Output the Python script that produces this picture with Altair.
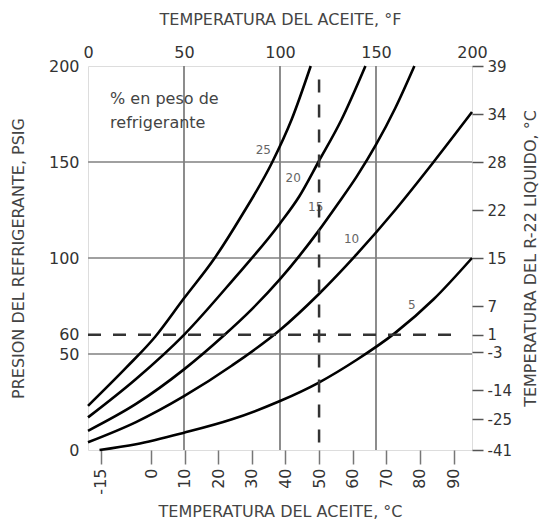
import altair as alt
import pandas as pd

# ---- data (oil temperature in °F, refrigerant pressure in psig)
curve_names = ["5", "10", "15", "20", "25"]
temp_f_5 = [6, 25, 50, 75, 100, 120, 140, 160, 180, 200]
psig_5 = [0, 3, 9, 16, 25.5, 35, 47, 61, 78.5, 100]
temp_f_10 = [0, 25, 50, 75, 100, 120, 140, 160, 180, 200]
psig_10 = [4, 14.5, 28, 44, 62.5, 81, 102, 125, 150, 176]
temp_f_15 = [0, 25, 50, 70, 85, 100, 110, 120, 130, 140, 150, 160, 170]
psig_15 = [10, 24, 42, 59, 73, 89, 101, 114, 128, 142.5, 159, 178, 200]
temp_f_20 = [0, 25, 50, 75, 100, 110, 120, 132, 144.5]
psig_20 = [17, 37, 60, 88, 118, 132, 150, 172, 200]
temp_f_25 = [0, 20, 35, 50, 66, 80, 96, 106, 116]
psig_25 = [23, 43, 59, 79, 100, 122, 150, 172, 200]

# curve label anchor points (°F, psig)
label_f = [168.6, 137.3, 118.6, 106.9, 91.3]
label_p = [75.5, 110, 126.6, 141.6, 156]

# axes
top_ticks_f = [0, 50, 100, 150, 200]
bottom_ticks_c = [-15, 0, 10, 20, 30, 40, 50, 60, 70, 80, 90]
celsius_domain = [-18.75, 95.5]
left_ticks_psig = [0, 50, 60, 100, 150, 200]
right_ticks_psig = [0, 16, 31, 51, 60, 75, 100, 125, 150, 175, 200]
right_labels_c = ["-41", "-25", "-14", "-3", "1", "7", "15", "22", "28", "34", "39"]
grid_f = [50, 100, 150]
grid_psig = [50, 100, 150]

# reference (dashed) lines
ref_psig = 60
ref_psig_end_f = 193
ref_c = 50
ref_c_end_psig = 193

note_lines = ["% en peso de", "refrigerante"]
note_f = [11.5, 11.5]
note_p = [183, 170.5]

FONT = "DejaVu Sans"

# ---- tables
series = {
    "5": (temp_f_5, psig_5),
    "10": (temp_f_10, psig_10),
    "15": (temp_f_15, psig_15),
    "20": (temp_f_20, psig_20),
    "25": (temp_f_25, psig_25),
}
rows = []
for name in curve_names:
    fs, ps = series[name]
    for f, p in zip(fs, ps):
        rows.append({"curve": name, "f": f, "p": p})
curves_df = pd.DataFrame(rows)
labels_df = pd.DataFrame({"f": label_f, "p": label_p, "t": curve_names})
vgrid_df = pd.DataFrame({"f": grid_f})
hgrid_df = pd.DataFrame({"p": grid_psig})
href_df = pd.DataFrame({"f": [0], "f2": [ref_psig_end_f], "p": [ref_psig]})
vref_df = pd.DataFrame({"c": [ref_c], "p": [ref_c_end_psig], "p2": [0]})
note_df = pd.DataFrame({"f": note_f, "p": note_p, "t": note_lines})

x_scale = alt.Scale(domain=[0, 200], nice=False, zero=False)
y_scale = alt.Scale(domain=[0, 200], nice=False, zero=False)

common_title = dict(titleFont=FONT, titleFontSize=16, titleFontWeight="normal",
                    titleColor="#444")
common_label = dict(labelFont=FONT, labelColor="#333",
                    labelFlush=False, labelOverlap=False)

top_axis = alt.Axis(
    orient="top", values=top_ticks_f, title="TEMPERATURA DEL ACEITE, °F",
    grid=False, ticks=False, domain=False, labelPadding=6, titlePadding=17,
    labelFontSize=16, **common_label, **common_title,
)
left_axis = alt.Axis(
    orient="left", values=left_ticks_psig, title="PRESION DEL REFRIGERANTE, PSIG",
    grid=False, ticks=False, domain=False, labelPadding=9, titlePadding=22,
    labelFontSize=16, **common_label, **common_title,
)
label_expr = "[" + ",".join("'%s'" % s for s in right_labels_c) + "][indexof([" + \
    ",".join(str(v) for v in right_ticks_psig) + "], datum.value)]"
right_axis = alt.Axis(
    orient="right", values=right_ticks_psig, labelExpr=label_expr,
    title="TEMPERATURA DEL R-22 LIQUIDO, °C", titleAngle=270, titleBaseline="top",
    grid=False, ticks=True, tickSize=11, tickColor="#555", tickWidth=1.5,
    domain=False, labelPadding=4, titlePadding=11,
    labelFontSize=15, **common_label, **common_title,
)
bottom_axis = alt.Axis(
    orient="bottom", values=bottom_ticks_c, title="TEMPERATURA DEL ACEITE, °C",
    labelExpr="datum.value < 0 ? '-' + abs(datum.value) : '' + datum.value",
    labelAngle=270, grid=False, ticks=True, tickSize=14, tickColor="#777",
    tickWidth=1.5, domain=False, labelPadding=4, titlePadding=9,
    labelFontSize=16, **common_label, **common_title,
)

# ---- layer A: °F / psig
vgrid = alt.Chart(vgrid_df).mark_rule(color="#808080", strokeWidth=1.8).encode(
    x=alt.X("f:Q", scale=x_scale, axis=top_axis)
)
curves = alt.Chart(curves_df).mark_line(
    interpolate="monotone", color="black", strokeWidth=2.6
).encode(
    x=alt.X("f:Q", scale=x_scale),
    y=alt.Y("p:Q", scale=y_scale, axis=left_axis),
    detail="curve:N",
)
href = alt.Chart(href_df).mark_rule(
    color="#333", strokeWidth=2.5, strokeDash=[13, 12]
).encode(x="f:Q", x2="f2:Q", y="p:Q")
clabels = alt.Chart(labels_df).mark_text(
    font=FONT, fontSize=12, color="#666", align="center", baseline="middle"
).encode(x="f:Q", y="p:Q", text="t:N")
note = alt.Chart(note_df).mark_text(
    font=FONT, fontSize=16, color="#444", align="left", baseline="middle"
).encode(x="f:Q", y="p:Q", text="t:N")

layer_a = alt.layer(vgrid, curves, href, clabels, note)

# ---- layer B: horizontal grid with right (R-22 liquid temperature) axis
layer_b = alt.Chart(hgrid_df).mark_rule(color="#a0a0a0", strokeWidth=2).encode(
    y=alt.Y("p:Q", scale=y_scale, axis=right_axis)
)

# ---- layer C: °C bottom axis with dashed 50 °C line
c_scale = alt.Scale(domain=celsius_domain, nice=False, zero=False)
layer_c = alt.Chart(vref_df).mark_rule(
    color="#333", strokeWidth=2.5, strokeDash=[13, 12]
).encode(
    x=alt.X("c:Q", scale=c_scale, axis=bottom_axis),
    y=alt.Y("p:Q", scale=y_scale, axis=None),
    y2="p2:Q",
)

chart = alt.layer(layer_b, layer_a, layer_c).resolve_scale(
    x="independent", y="independent"
).properties(
    width=384, height=384,
    autosize=alt.AutoSizeParams(type="none"),
    padding={"left": 80, "top": 58, "right": 71, "bottom": 71},
).configure_view(stroke="#222", strokeWidth=2.5).configure(background="white")

chart.save("out.html", embed_options={"renderer": "svg", "actions": False})
